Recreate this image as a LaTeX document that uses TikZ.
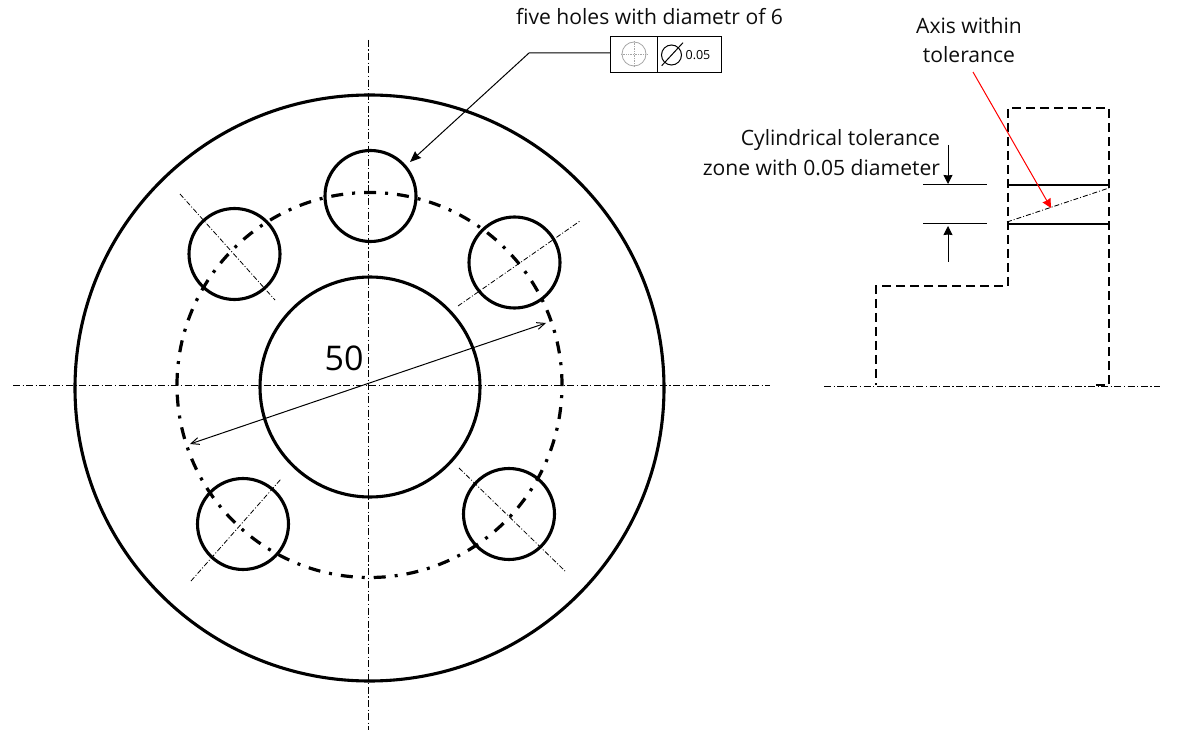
\documentclass[tikz,border=0pt]{standalone}
\usepackage{fontspec}
\setmainfont{Open Sans}
\usetikzlibrary{arrows.meta,calc}
\tikzset{
  x=1pt,y=-1pt,
  thick line/.style={draw=black,line width=3.1pt},
  hole/.style={circle,draw=black,line width=3.1pt,minimum size=91pt,inner sep=0pt,outer sep=0pt},
  centerline/.style={draw=black,line width=0.9pt,dash pattern=on 7pt off 2.5pt on 1.2pt off 2.5pt},
  holeaxis/.style={draw=black,line width=0.8pt,dash pattern=on 5pt off 2pt on 1pt off 2pt},
  boltcircle/.style={draw=black,line width=3.2pt,dash pattern=on 12pt off 9pt on 3pt off 9pt},
  hidden/.style={draw=black,line width=2.6pt,dash pattern=on 9pt off 5pt},
  label/.style={inner sep=0pt,outer sep=0pt,font=\fontsize{21.1}{25}\selectfont,text=black!95},
  thin line/.style={draw=black,line width=1pt},
  tip/.style={-{Stealth[length=11pt,width=9pt,inset=1pt]}},
  smalltip/.style={-{Stealth[length=9pt,width=9pt,inset=0.5pt]}},
}
\begin{document}
\begin{tikzpicture}
\useasboundingbox (0,0) rectangle (1179,738);
% centre lines
\coordinate (vT) at (368,40); \coordinate (vB) at (368,730);
\coordinate (hL) at (13,385.5); \coordinate (hR) at (770,385.5);
\draw[centerline] (vT) -- (vB);
\draw[centerline] (hL) -- (hR);
% outer and hub
\draw[thick line] (369.5,388) ellipse [x radius=294.5pt,y radius=293pt];
\node[hole,minimum size=220pt] (hub) at (370,387) {};
% bolt circle, beginning at its left point and running clockwise
\draw[boltcircle] (177,385) arc[start angle=180,end angle=-180,radius=192.5pt];
% hole axes
\coordinate (a1) at (180,194); \coordinate (a2) at (275,300);
\coordinate (b1) at (458,306); \coordinate (b2) at (580,221);
\coordinate (c1) at (191,581); \coordinate (c2) at (281,479);
\coordinate (d1) at (459,468); \coordinate (d2) at (565,571);
\draw[holeaxis] (a1) -- (a2);
\draw[holeaxis] (b1) -- (b2);
\draw[holeaxis] (c1) -- (c2);
\draw[holeaxis] (d1) -- (d2);
% holes
\node[hole] (holeT) at (370.5,196) {};
\node[hole] (holeL) at (234.5,254) {};
\node[hole] (holeR) at (514.5,262.5) {};
\node[hole] (holeBL) at (243,524) {};
\node[hole] (holeBR) at (509,514) {};
% diameter dimension
\coordinate (dimA) at (190,444); \coordinate (dimB) at (546,323);
\draw[thin line,{Straight Barb[length=8pt,width=7pt]}-{Straight Barb[length=8pt,width=7pt]}] (dimA) -- (dimB);
\node[inner sep=0pt,font=\fontsize{34}{40}\selectfont] (dim50) at (344,358) {50};
% feature control frame
\node[label,anchor=center] (holesText) at (649.5,17) {five holes with diametr of 6};
\node[draw=black,line width=1pt,minimum width=110.5pt,minimum height=36pt,inner sep=0pt,outer sep=0pt] (frame) at (665.75,55) {};
\coordinate (divT) at (657.5,37); \coordinate (divB) at (657.5,73);
\draw[thin line] (divT) -- (divB);
\node[circle,draw=black!35,line width=0.8pt,minimum size=24pt,inner sep=0pt] (posSym) at (634,54) {};
\coordinate (p1) at (621,54); \coordinate (p2) at (647,54);
\coordinate (p3) at (634,41); \coordinate (p4) at (634,68);
\draw[draw=black!35,line width=0.7pt,densely dotted] (p1) -- (p2);
\draw[draw=black!35,line width=0.7pt,densely dotted] (p3) -- (p4);
\node[circle,draw=black,line width=1pt,minimum size=20pt,inner sep=0pt] (phi) at (671.5,55) {};
\coordinate (s1) at (661.7,65.7); \coordinate (s2) at (683,42.7);
\draw[thin line] (s1) -- (s2);
\node[inner sep=0pt,font=\fontsize{12.5}{15}\selectfont] (tolValue) at (698,55.5) {0.05};
\coordinate (lead0) at (610.5,53); \coordinate (lead1) at (529,53); \coordinate (lead2) at (410,162);
\draw[thin line,tip] (lead0) -- (lead1) -- (lead2);
% side view
\coordinate (sA) at (1096,385); \coordinate (sB) at (1109,385); \coordinate (sC) at (1109,108);
\coordinate (sD) at (1008,108); \coordinate (sE) at (1008,286); \coordinate (sF) at (876,286); \coordinate (sG) at (876,385);
\draw[hidden] (sA) -- (sB) -- (sC) -- (sD) -- (sE) -- (sF) -- (sG);
\coordinate (axL) at (824,386); \coordinate (axR) at (1160,386);
\draw[centerline] (axL) -- (axR);
\coordinate (z1) at (1007,185); \coordinate (z2) at (1109,185);
\coordinate (z3) at (1007,224); \coordinate (z4) at (1109,224);
\draw[draw=black,line width=2.2pt] (z1) -- (z2);
\draw[draw=black,line width=2.2pt] (z3) -- (z4);
\coordinate (t1) at (923,185); \coordinate (t2) at (987,185);
\coordinate (t3) at (923,224); \coordinate (t4) at (987,224);
\draw[thin line] (t1) -- (t2);
\draw[thin line] (t3) -- (t4);
\coordinate (up0) at (948,145); \coordinate (up1) at (948,184);
\coordinate (dn0) at (948,262); \coordinate (dn1) at (948,226);
\draw[thin line,smalltip] (up0) -- (up1);
\draw[thin line,smalltip] (dn0) -- (dn1);
\coordinate (ax1) at (1007,222); \coordinate (ax2) at (1109,188);
\draw[holeaxis] (ax1) -- (ax2);
\node[label] (axisA) at (969,26) {Axis within};
\node[label] (axisB) at (969,55) {tolerance};
\node[label,anchor=east] (cylA) at (940,140) {Cylindrical tolerance};
\node[label,anchor=east] (cylB) at (940,167.5) {zone with 0.05 diameter};
\coordinate (red0) at (973,72); \coordinate (red1) at (1051,208);
\draw[draw=red,line width=1pt,smalltip] (red0) -- (red1);
\end{tikzpicture}
\end{document}
